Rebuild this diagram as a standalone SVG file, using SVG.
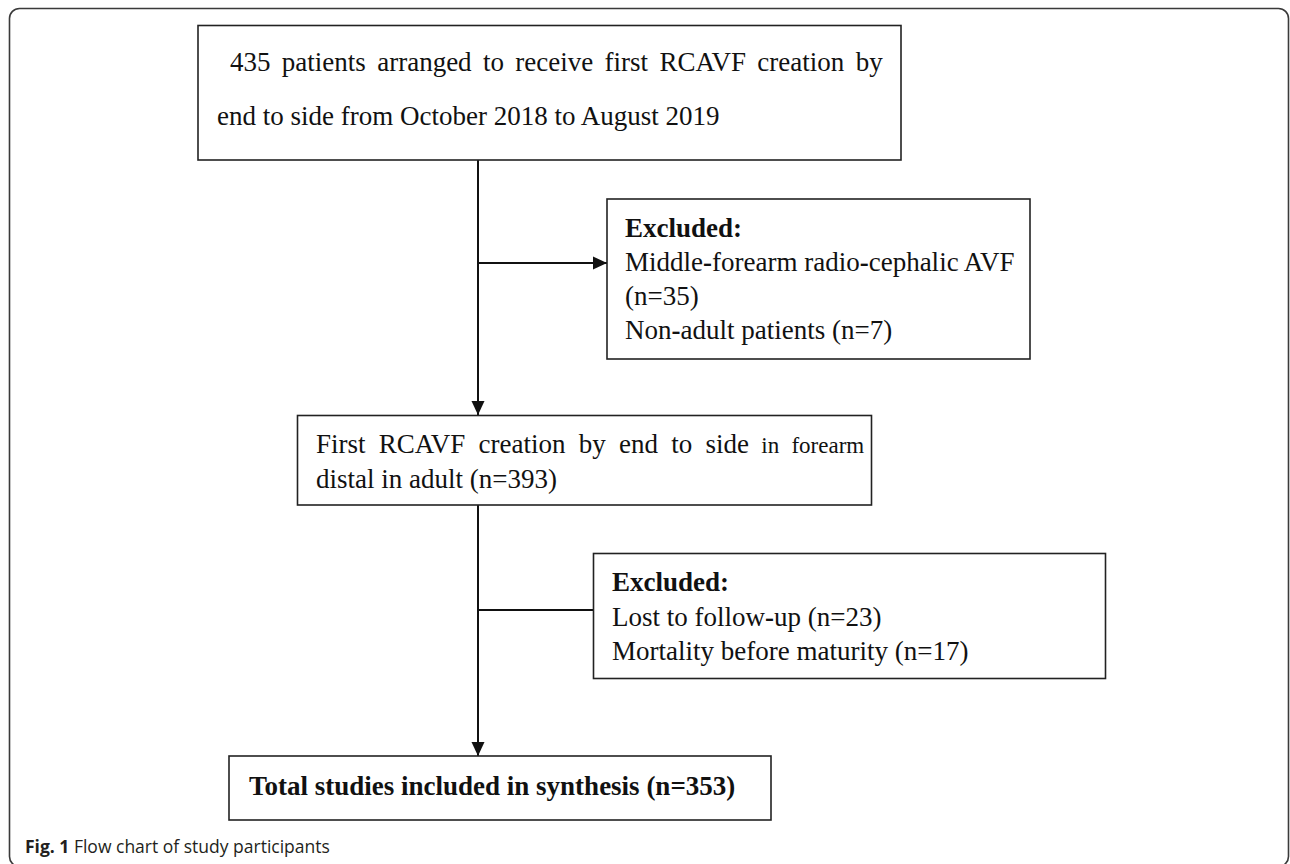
<svg xmlns="http://www.w3.org/2000/svg" width="1290" height="864" viewBox="0 0 1290 864">
<style>
.frame{fill:none;stroke:#3a3a3a;stroke-width:1.6}
.box{fill:#fff;stroke:#222;stroke-width:1.6}
.conn{fill:none;stroke:#111;stroke-width:2}
.t{font-family:"Liberation Serif","Times New Roman",serif;font-size:27px;fill:#111}
.b{font-weight:bold}
.cap{font-family:"Open Sans","Liberation Sans",sans-serif;font-size:17.5px;fill:#231f20}
</style>
<defs>
<marker id="ah" markerUnits="userSpaceOnUse" markerWidth="14" markerHeight="14" viewBox="0 0 14 14" refX="14" refY="7" orient="auto">
<path d="M0,0.5 L14,7 L0,13.5 Z" fill="#111"/>
</marker>
</defs>
<rect class="frame" x="9.5" y="8.5" width="1279" height="858" rx="10"/>
<g id="connectors">
<line class="conn" x1="478" y1="160" x2="478" y2="415" marker-end="url(#ah)"/>
<line class="conn" x1="478" y1="263" x2="607" y2="263" marker-end="url(#ah)"/>
<line class="conn" x1="478" y1="505" x2="478" y2="756" marker-end="url(#ah)"/>
<line class="conn" x1="478" y1="610" x2="593" y2="610"/>
</g>
<g id="n1">
<rect class="box" x="198" y="25.5" width="703" height="134.5"/>
<text class="t" x="230" y="71" word-spacing="4.6">435 patients arranged to receive first RCAVF creation by</text>
<text class="t" x="217" y="125">end to side from October 2018 to August 2019</text>
</g>
<g id="n2">
<rect class="box" x="607" y="199" width="423" height="160"/>
<text class="t b" x="625" y="237">Excluded:</text>
<text class="t" x="625" y="271">Middle<tspan class="b">-</tspan>forearm radio<tspan class="b">-</tspan>cephalic AVF</text>
<text class="t" x="625" y="305">(n=35)</text>
<text class="t" x="625" y="339">Non<tspan class="b">-</tspan>adult patients (n=7)</text>
</g>
<g id="n3">
<rect class="box" x="297.5" y="415.5" width="574" height="89.5"/>
<text class="t" x="316" y="453" font-size="26" word-spacing="6.5">First RCAVF creation by end to side<tspan font-size="23"> in forearm</tspan></text>
<text class="t" x="316" y="488" font-size="24">distal in adult (n=393)</text>
</g>
<g id="n4">
<rect class="box" x="593.5" y="553.5" width="512" height="125"/>
<text class="t b" x="612" y="591">Excluded:</text>
<text class="t" x="612" y="626">Lost to follow<tspan class="b">-</tspan>up (n=23)</text>
<text class="t" x="612" y="660">Mortality before maturity (n=17)</text>
</g>
<g id="n5">
<rect class="box" x="229" y="756" width="542" height="64"/>
<text class="t b" x="249" y="795" font-size="27.5">Total studies included in synthesis (n=353)</text>
</g>
<text class="cap" x="25" y="853"><tspan font-weight="bold">Fig. 1</tspan> Flow chart of study participants</text>
</svg>
